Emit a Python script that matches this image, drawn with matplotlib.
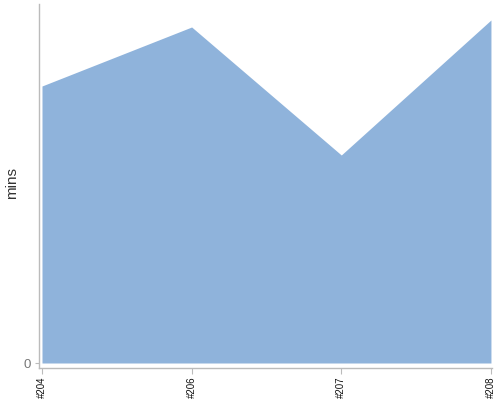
import matplotlib
matplotlib.use('Agg')
import matplotlib.pyplot as plt

plt.rcParams['font.family'] = ['Liberation Sans', 'DejaVu Sans']

# build numbers and durations (mins)
builds = ['#204', '#206', '#207', '#208']
mins = [277, 336, 208, 343]

fig = plt.figure(figsize=(5, 4), dpi=100)
ax = fig.add_axes([0.078, 0.08, 0.906, 0.91])

x = list(range(len(builds)))
ax.fill_between(x, mins, 0, color='#8fb3db', linewidth=0)

ax.set_xlim(-0.02, 3.007)
ax.set_ylim(-5, 359)

ax.set_xticks(x)
ax.set_xticklabels(builds, rotation=90, fontsize=7, color='#111111')
ax.set_yticks([0])
ax.set_yticklabels(['0'], fontsize=9.5, color='#777777')
ax.tick_params(axis='x', length=4, color='#bbbbbb', pad=2)
ax.tick_params(axis='y', length=3, color='#bbbbbb', pad=3)

for side in ['top', 'right']:
    ax.spines[side].set_visible(False)
for side in ['left', 'bottom']:
    ax.spines[side].set_color('#bbbbbb')
    ax.spines[side].set_linewidth(1)

ax.set_ylabel('mins', fontsize=11, color='#333333')
ax.yaxis.set_label_coords(-0.045, 0.508)

fig.savefig('out.png', dpi=100)
